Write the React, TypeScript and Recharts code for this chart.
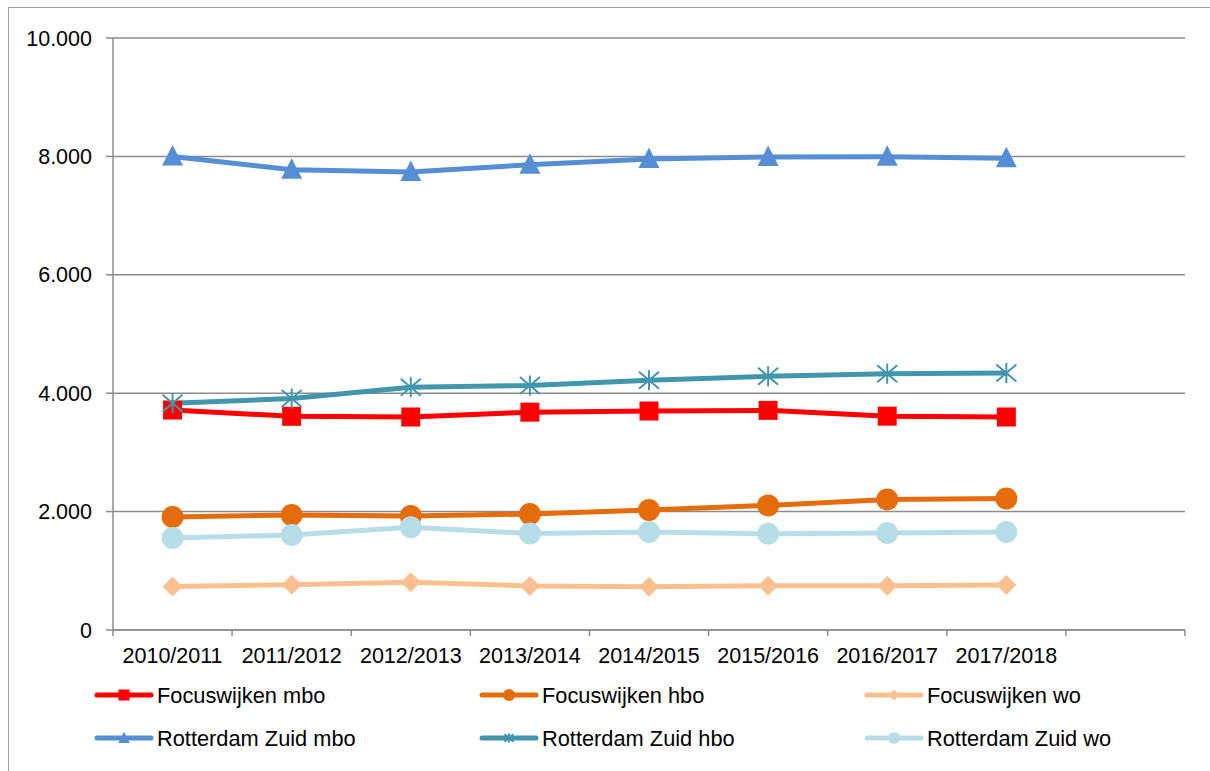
import { CartesianGrid, Line, LineChart, XAxis, YAxis } from "recharts";

const seasons = [
  "2010/2011",
  "2011/2012",
  "2012/2013",
  "2013/2014",
  "2014/2015",
  "2015/2016",
  "2016/2017",
  "2017/2018",
];
const focusMbo = [3716, 3610, 3598, 3680, 3699, 3710, 3612, 3598];
const focusHbo = [1909, 1943, 1926, 1959, 2027, 2105, 2205, 2220];
const focusWo = [735, 765, 805, 745, 730, 748, 748, 760];
const zuidMbo = [8000, 7775, 7735, 7860, 7955, 7990, 7995, 7970];
const zuidHbo = [3830, 3910, 4100, 4130, 4220, 4285, 4330, 4340];
const zuidWo = [1555, 1605, 1735, 1630, 1655, 1625, 1640, 1655];
const yTicks = [0, 2000, 4000, 6000, 8000, 10000];
// Excel leaves one empty category slot at the right end
const slots = 9;

const series = [
  { key: "fMbo", name: "Focuswijken mbo", values: focusMbo, color: "#FF0000", shape: "square" },
  { key: "fHbo", name: "Focuswijken hbo", values: focusHbo, color: "#E46C0A", shape: "circle" },
  { key: "fWo", name: "Focuswijken wo", values: focusWo, color: "#FAC090", shape: "diamond" },
  { key: "zMbo", name: "Rotterdam Zuid mbo", values: zuidMbo, color: "#558ED5", shape: "triangle" },
  { key: "zHbo", name: "Rotterdam Zuid hbo", values: zuidHbo, color: "#4196AE", shape: "star" },
  { key: "zWo", name: "Rotterdam Zuid wo", values: zuidWo, color: "#B7DEE8", shape: "circle" },
];

const data = seasons.map((season, i) => {
  const row: Record<string, number | string> = { x: i + 0.5, season };
  series.forEach((s) => {
    row[s.key] = s.values[i];
  });
  return row;
});

const xTicks: number[] = [];
for (let i = 0; i <= slots; i++) {
  xTicks.push(i);
  if (i < seasons.length) xTicks.push(i + 0.5);
}

const FONT = "'Liberation Sans', Arial, sans-serif";
const AXIS = "#8c8c8c";

const fmt = (v: number) => String(v).replace(/\B(?=(\d{3})+(?!\d))/g, ".");

function Marker({ shape, cx, cy, color, size }: any) {
  const h = size / 2;
  switch (shape) {
    case "square":
      return <rect x={cx - h} y={cy - h} width={size} height={size} fill={color} />;
    case "circle":
      return <circle cx={cx} cy={cy} r={h * 1.1} fill={color} />;
    case "diamond":
      return (
        <polygon
          points={`${cx},${cy - h} ${cx + h},${cy} ${cx},${cy + h} ${cx - h},${cy}`}
          fill={color}
        />
      );
    case "triangle":
      return (
        <polygon
          points={`${cx},${cy - h * 1.15} ${cx + h * 1.05},${cy + h * 0.9} ${cx - h * 1.05},${cy + h * 0.9}`}
          fill={color}
        />
      );
    default:
      return (
        <g stroke={color} strokeWidth={2}>
          <line x1={cx} y1={cy - h} x2={cx} y2={cy + h} />
          <line x1={cx - h} y1={cy - h * 0.85} x2={cx + h} y2={cy + h * 0.85} />
          <line x1={cx - h} y1={cy + h * 0.85} x2={cx + h} y2={cy - h * 0.85} />
        </g>
      );
  }
}

function XTick({ x, y, payload }: any) {
  const v = payload.value;
  if (Number.isInteger(v)) {
    return <line x1={x} x2={x} y1={y} y2={y + 6} stroke={AXIS} strokeWidth={1.5} />;
  }
  return (
    <text x={x} y={y + 33} textAnchor="middle" fontSize={21.5} fill="#000" fontFamily={FONT}>
      {seasons[Math.floor(v)]}
    </text>
  );
}

function Legend() {
  return (
    <svg width={1210} height={771} style={{ position: "absolute", left: 0, top: 0 }}>
      {series.map((s, i) => {
        const col = i % 3;
        const row = Math.floor(i / 3);
        const tx = 157 + col * 385;
        const y = 695 + row * 43;
        return (
          <g key={s.key}>
            <line x1={tx - 60} x2={tx - 6} y1={y} y2={y} stroke={s.color} strokeWidth={5} strokeLinecap="round" />
            <Marker shape={s.shape} cx={tx - 33} cy={y} color={s.color} size={s.shape === "star" ? 9 : 11} />
            <text x={tx} y={y + 7.5} fontSize={21.8} fill="#000" fontFamily={FONT}>
              {s.name}
            </text>
          </g>
        );
      })}
    </svg>
  );
}

export default function App() {
  return (
    <div style={{ position: "fixed", inset: 0, overflow: "hidden", background: "#fff", fontFamily: FONT }}>
      <div
        style={{
          position: "absolute",
          left: 8,
          top: 7,
          width: 1220,
          height: 800,
          border: "1.5px solid #a0a0a0",
        }}
      />
      <div style={{ position: "absolute", left: 0, top: 0 }}>
        <LineChart
          width={1210}
          height={771}
          data={data}
          margin={{ top: 38, right: 25, bottom: 101, left: 0 }}
        >
          <CartesianGrid vertical={false} stroke={AXIS} strokeWidth={1.5} />
          <XAxis
            type="number"
            dataKey="x"
            domain={[0, slots]}
            ticks={xTicks}
            interval={0}
            height={40}
            tickLine={false}
            tickSize={0}
            tickMargin={0}
            axisLine={{ stroke: AXIS, strokeWidth: 1.5 }}
            tick={<XTick />}
          />
          <YAxis
            type="number"
            domain={[0, 10000]}
            ticks={yTicks}
            width={113}
            tickSize={7}
            tickMargin={14}
            tickFormatter={fmt}
            tickLine={{ stroke: AXIS, strokeWidth: 1.5 }}
            axisLine={{ stroke: AXIS, strokeWidth: 1.5 }}
            tick={{ fill: "#000", fontSize: 21.5, fontFamily: FONT }}
          />
          {series.map((s) => (
            <Line
              key={s.key}
              dataKey={s.key}
              name={s.name}
              type="linear"
              stroke={s.color}
              strokeWidth={5}
              isAnimationActive={false}
              activeDot={false}
              dot={(p: any) => (
                <Marker
                  key={`${s.key}-${p.index}`}
                  shape={s.shape}
                  cx={p.cx}
                  cy={p.cy}
                  color={s.color}
                  size={s.shape === "square" ? 19 : 20}
                />
              )}
            />
          ))}
        </LineChart>
      </div>
      <Legend />
    </div>
  );
}
